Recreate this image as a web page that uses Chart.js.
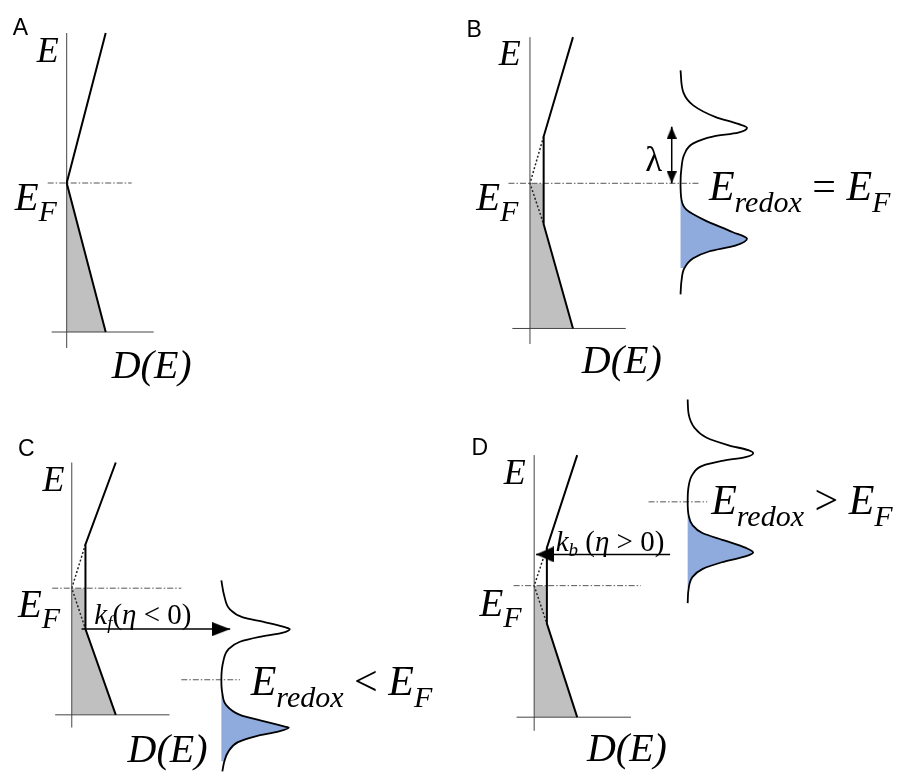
<!DOCTYPE html>
<html>
<head>
<meta charset="utf-8">
<script src="https://cdn.jsdelivr.net/npm/chart.js@4.4.1/dist/chart.umd.min.js"></script>
<style>
  html, body { margin: 0; padding: 0; background: #fff; }
  #fig { position: relative; width: 897px; height: 778px; overflow: hidden; background: #fff; }
  #fig canvas { position: absolute; }
</style>
</head>
<body>
<div id="fig">
  <canvas id="pA" width="448" height="389" style="left:0px;top:0px"></canvas>
  <canvas id="pB" width="448" height="389" style="left:449px;top:0px"></canvas>
  <canvas id="pC" width="448" height="389" style="left:0px;top:389px"></canvas>
  <canvas id="pD" width="448" height="389" style="left:449px;top:389px"></canvas>
</div>
<script>
// values, [D(E), E] in arbitrary units,
// origin = corner of each panel's axes. Panel order: A, B, C, D
const fermiE = [14.9, 14.9, 13.0, 13.5];
const axisE = [[-1.6, 29.9], [-1.6, 29.9], [-1.3, 25.9], [-1.4, 26.9]];
const axisD = [[-1.5, 8.7], [-1.8, 9.8], [-1.7, 10.0], [-1.8, 9.9]];
const fermiLineD = [[-1.9, 6.5], [-2.2, 17.3], [-2.0, 11.2], [-2.1, 10.9]];

// metal density of states (solid line)
const dosA = [[3.9, 29.9], [0, 14.9], [3.9, 0]];
const dosB = [[4.4, 29.9], [1.4, 19.7], [1.4, 10.7], [4.4, 0]];
const dosC = [[4.5, 25.9], [1.4, 17.5], [1.4, 8.8], [4.5, 0]];
const dosD = [[4.4, 26.9], [1.3, 17.4], [1.3, 9.6], [4.4, 0]];
// original V of the bare metal (dotted)
const dottedB = [[1.4, 19.7], [0, 14.9], [1.4, 10.7]];
const dottedC = [[1.4, 17.5], [0, 13.0], [1.4, 8.8]];
const dottedD = [[1.3, 17.4], [0, 13.5], [1.3, 9.6]];
// occupied metal states (grey)
const filledA = [[0, 14.9], [3.9, 0]];
const filledB = [[1.4, 14.9], [1.4, 10.7], [4.4, 0]];
const filledC = [[1.4, 13.0], [1.4, 8.8], [4.5, 0]];
const filledD = [[1.3, 13.5], [1.3, 9.6], [4.4, 0]];

// redox density of states
const redoxB = [[15.4, 26.5], [15.7, 24.2], [16.7, 22.9], [19.0, 21.7], [21.3, 21.0], [22.2, 20.6],
  [21.3, 20.1], [18.7, 19.7], [16.7, 19.0], [15.8, 17.9], [15.5, 16.5], [15.4, 14.9], [15.5, 13.2],
  [16.0, 12.2], [17.7, 11.2], [20.7, 9.9], [22.2, 9.2], [21.0, 8.5], [18.3, 7.9], [16.7, 7.2],
  [15.8, 6.2], [15.5, 4.9], [15.4, 3.5]];
const redoxC = [[15.3, 13.8], [15.6, 12.2], [16.2, 10.8], [17.5, 10.0], [19.8, 9.5], [21.8, 9.0],
  [22.3, 8.8], [21.5, 8.4], [19.2, 8.0], [17.2, 7.5], [16.0, 6.7], [15.5, 5.5], [15.3, 3.6],
  [15.4, 2.2], [15.8, 1.0], [17.2, 0.0], [19.8, -0.7], [21.8, -1.2], [22.2, -1.3], [21.2, -1.7],
  [18.8, -2.2], [17.0, -2.8], [16.0, -3.8], [15.6, -4.8], [15.4, -5.8]];
const redoxD = [[15.7, 32.6], [15.8, 31.1], [16.4, 29.7], [17.6, 28.7], [19.9, 27.9], [21.9, 27.4],
  [22.4, 27.1], [21.6, 26.7], [19.2, 26.3], [17.2, 25.8], [16.2, 24.9], [15.8, 23.7], [15.7, 22.1],
  [15.8, 20.7], [16.2, 19.7], [17.2, 18.9], [19.6, 18.1], [21.6, 17.4], [22.4, 16.9], [21.6, 16.5],
  [19.2, 15.9], [17.2, 15.2], [16.2, 14.4], [15.8, 13.2], [15.7, 11.7]];
const redoxBase = [null, 15.4, 15.3, 15.7];
const redoxE = [null, 14.9, 3.6, 22.1];
const redoxLineD = [null, null, [11.2, 17.2], [11.7, 17.7]];
const redoxFilledE = [null, [6.2, 13.2], [-4.9, 2.3], [12.7, 21.2]];

// arrows [from, to]
const lambdaArrow = [[14.5, 20.7], [14.5, 14.9]];
const kfArrow = [[1.0, 8.8], [16.2, 8.8]];
const kbArrow = [[13.9, 16.7], [0.2, 16.7]];

// layout: canvas corner and where each panel's axes corner sits in the figure (px)
const UNIT = 10;
const CW = 448, CH = 389;
const layout = {
  pA: {left: 0, top: 0, ox: 66.7, oy: 332},
  pB: {left: 449, top: 0, ox: 526.7, oy: 332},
  pC: {left: 0, top: 389, ox: 68.3, oy: 718.3},
  pD: {left: 449, top: 389, ox: 531, oy: 720.7}
};

const serif = '"Liberation Serif", "Times New Roman", serif';
const it = s => 'italic ' + s + 'px ' + serif;
const rm = s => s + 'px ' + serif;
const sans = '23px "Liberation Sans", Arial, sans-serif';

const pts = a => a.map(p => ({x: p[0], y: p[1]}));

function seg(points, style) {
  return Object.assign({data: pts(points), borderColor: '#000', borderWidth: 1,
    pointRadius: 0, fill: false, tension: 0}, style);
}
function area(points, target, color, style) {
  return Object.assign({data: pts(points), borderColor: 'rgba(0,0,0,0)', borderWidth: 0,
    backgroundColor: color, fill: target, pointRadius: 0, tension: 0}, style);
}
function head(len, half) {
  const c = document.createElement('canvas');
  c.width = 2 * len; c.height = 2 * half;
  const g = c.getContext('2d');
  g.fillStyle = '#000';
  g.beginPath(); g.moveTo(0, 0); g.lineTo(len, half); g.lineTo(0, 2 * half); g.closePath(); g.fill();
  return c;
}
const dashDot = {borderColor: '#555', borderWidth: 1, borderDash: [6, 2, 1.5, 2]};

function metal(i, dos, filled, dotted) {
  const f = fermiE[i];
  const list = [
    seg(dos, {borderWidth: 2}),
    seg([[0, axisE[i][0]], [0, axisE[i][1]]], {borderColor: '#444'}),
    seg([[axisD[i][0], 0], [axisD[i][1], 0]], {borderColor: '#444'}),
    seg([[fermiLineD[i][0], f], [fermiLineD[i][1], f]], dashDot)
  ];
  if (dotted) list.push(seg(dotted, {borderColor: '#222', borderWidth: 1.5, borderDash: [2, 2]}));
  list.push(area(filled, 'origin', '#c0c0c0'));
  return list;
}
function redox(i, curve) {
  const lo = redoxFilledE[i][0], hi = redoxFilledE[i][1];
  const list = [seg(curve, {borderWidth: 1.8, cubicInterpolationMode: 'monotone'})];
  if (redoxLineD[i]) list.push(seg([[redoxLineD[i][0], redoxE[i]], [redoxLineD[i][1], redoxE[i]]], dashDot));
  list.push(area(curve.filter(p => p[1] >= lo && p[1] <= hi), {value: redoxBase[i]}, '#8faadc',
    {cubicInterpolationMode: 'monotone'}));
  return list;
}
function arrow(a, tips, rots, len, half) {
  return [
    {data: pts(tips), showLine: false, pointStyle: head(len, half), pointRotation: rots,
      pointRadius: 5, borderWidth: 0},
    seg(a, {borderWidth: 1.5})
  ];
}

function axisLabels(letter, L, E, EF, DE) {
  return [
    {at: L, runs: [[letter, sans]]},
    {at: E, runs: [['E', it(36)]]},
    {at: EF, runs: [['E', it(39)], ['F', it(30), 11]]},
    {at: DE, runs: [['D(E)', it(40)]]}
  ];
}
function redoxLabel(at, op) {
  return {at: at, runs: [['E', it(42)], ['redox', it(30), 12], [' ' + op + ' ', rm(42)],
    ['E', it(42)], ['F', it(30), 12]]};
}

function textLayer(items) {
  return {
    id: 'textLayer',
    afterDatasetsDraw(chart) {
      const ctx = chart.ctx, sx = chart.scales.x, sy = chart.scales.y;
      ctx.save();
      ctx.fillStyle = '#000';
      ctx.textBaseline = 'alphabetic';
      ctx.textAlign = 'left';
      items.forEach(item => {
        let px = sx.getPixelForValue(item.at[0]);
        const py = sy.getPixelForValue(item.at[1]);
        item.runs.forEach(r => {
          ctx.font = r[1];
          ctx.fillText(r[0], px, py + (r[2] || 0));
          px += ctx.measureText(r[0]).width;
        });
      });
      ctx.restore();
    }
  };
}

function panel(id, datasets, items) {
  const p = layout[id];
  return new Chart(document.getElementById(id), {
    type: 'line',
    data: {datasets: datasets},
    options: {
      indexAxis: 'y',
      responsive: false,
      animation: false,
      events: [],
      layout: {padding: 0},
      scales: {
        x: {type: 'linear', display: false,
          min: (p.left - p.ox) / UNIT, max: (p.left + CW - p.ox) / UNIT},
        y: {type: 'linear', display: false,
          min: (p.oy - p.top - CH) / UNIT, max: (p.oy - p.top) / UNIT}
      },
      plugins: {
        legend: {display: false},
        tooltip: {enabled: false},
        filler: {drawTime: 'beforeDatasetsDraw'}
      }
    },
    plugins: [textLayer(items)]
  });
}

panel('pA', metal(0, dosA, filledA, null),
  axisLabels('A', [-5.4, 29.7], [-3.0, 27.0], [-5.2, 12.2], [4.5, -4.6]));

panel('pB', [].concat(
    arrow(lambdaArrow, lambdaArrow, [-90, 90], 12, 5),
    metal(1, dosB, filledB, dottedB),
    redox(1, redoxB)),
  axisLabels('B', [-6.5, 29.9], [-3.2, 27.0], [-5.5, 12.2], [5.3, -4.6]).concat([
    {at: [11.8, 16.2], runs: [['λ', rm(35)]]},
    redoxLabel([18.3, 13.2], '=')
  ]));

panel('pC', [].concat(
    arrow(kfArrow, [kfArrow[1]], [0], 18, 7),
    metal(2, dosC, filledC, dottedC),
    redox(2, redoxC)),
  axisLabels('C', [-5.5, 26.6], [-3.0, 23.0], [-5.5, 10.0], [5.7, -4.8]).concat([
    {at: [2.3, 9.3], runs: [['k', it(29)], ['f', it(19), 5], ['(', rm(29)], ['η', it(29)], [' < 0)', rm(29)]]},
    redoxLabel([18.3, 2.0], '<')
  ]));

panel('pD', [].concat(
    arrow(kbArrow, [kbArrow[1]], [180], 18, 8),
    metal(3, dosD, filledD, dottedD),
    redox(3, redoxD)),
  axisLabels('D', [-6.4, 26.9], [-3.1, 23.9], [-5.6, 10.4], [5.4, -4.5]).concat([
    {at: [2.2, 17.1], runs: [['k', it(29)], ['b', it(19), 5], [' (', rm(29)], ['η', it(29)], [' > 0)', rm(29)]]},
    redoxLabel([18.1, 20.9], '>')
  ]));
</script>
</body>
</html>
